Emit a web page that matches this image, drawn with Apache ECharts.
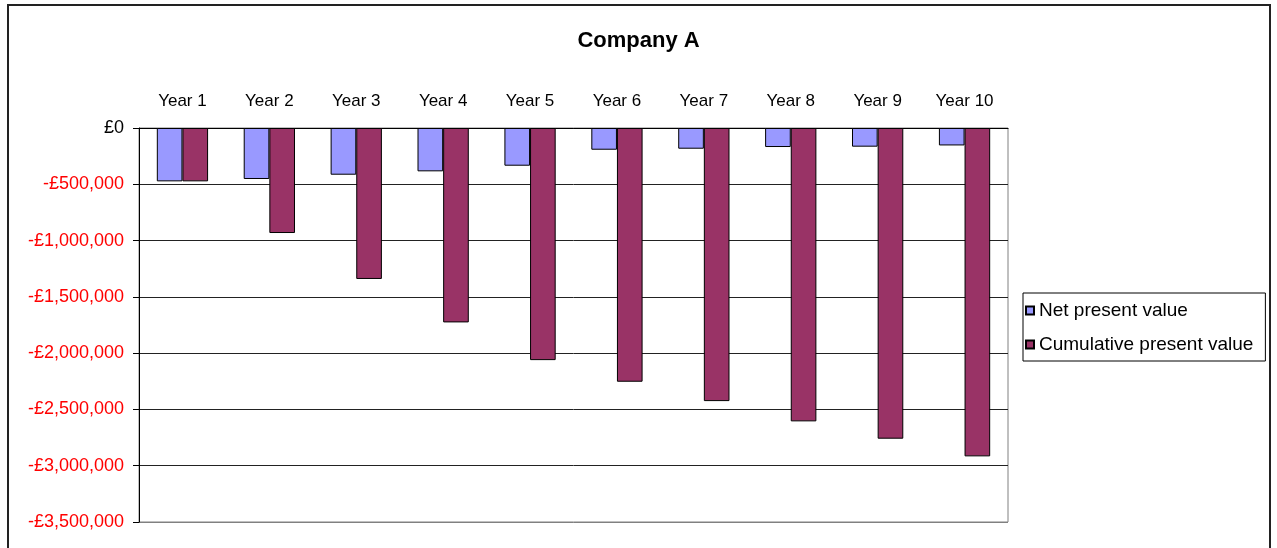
<!DOCTYPE html>
<html>
<head>
<meta charset="utf-8">
<title>Company A</title>
<script src="https://cdn.jsdelivr.net/npm/echarts@6/dist/echarts.min.js"></script>
<style>
  html, body { margin: 0; padding: 0; background: #fff; }
  #chart { width: 1277px; height: 548px; }
</style>
</head>
<body>
<div id="chart"></div>
<script>
// 数据
const years = ['Year 1', 'Year 2', 'Year 3', 'Year 4', 'Year 5', 'Year 6', 'Year 7', 'Year 8', 'Year 9', 'Year 10'];
const netPresentValue = [-474000, -453000, -415000, -385000, -335000, -193000, -184000, -169000, -166000, -155000];
const cumulativePresentValue = [-474000, -933000, -1341000, -1727000, -2062000, -2254000, -2426000, -2606000, -2760000, -2917000];

const FONT = '"Liberation Sans", Arial, sans-serif';

function formatPounds(v) {
    if (v === 0) return '{k|£0}';
    const s = Math.abs(v).toLocaleString('en-GB');
    return '{r|' + (v < 0 ? '-' : '') + '£' + s + '}';
}

const chart = echarts.init(document.getElementById('chart'));

chart.setOption({
    animation: false,
    title: {
        text: 'Company A',
        left: 'center',
        top: 25,
        textStyle: { fontFamily: FONT, fontSize: 22, fontWeight: 'bold', color: '#000' }
    },
    legend: {
        orient: 'vertical',
        left: 1023,
        top: 293,
        padding: [8, 12, 7, 2],
        itemGap: 15,
        itemWidth: 8,
        itemHeight: 8,
        icon: 'rect',
        borderColor: '#000',
        borderWidth: 1,
        data: ['Net present value', 'Cumulative present value'],
        textStyle: { fontFamily: FONT, fontSize: 19, color: '#000' }
    },
    grid: {
        left: 139,
        right: 269,
        top: 128,
        bottom: 26,
        show: true,
        borderColor: '#808080',
        borderWidth: 1
    },
    xAxis: {
        type: 'category',
        position: 'top',
        data: years,
        axisLine: { lineStyle: { color: '#000', width: 1 } },
        axisTick: { inside: true, length: 6, lineStyle: { color: '#000' } },
        axisLabel: { margin: 18, fontFamily: FONT, fontSize: 17, color: '#000' }
    },
    yAxis: {
        type: 'value',
        min: -3500000,
        max: 0,
        interval: 500000,
        axisLine: { show: true, lineStyle: { color: '#000', width: 1 } },
        axisTick: { show: true, length: 6, lineStyle: { color: '#000' } },
        axisLabel: {
            margin: 15,
            formatter: formatPounds,
            rich: {
                k: { fontFamily: FONT, fontSize: 18, color: '#000' },
                r: { fontFamily: FONT, fontSize: 18, color: '#ff0000' }
            }
        },
        splitLine: {
            lineStyle: {
                color: ['#808080', '#222', '#222', '#222', '#222', '#222', '#222', '#222'],
                width: 1
            }
        }
    },
    series: [
        {
            name: 'Net present value',
            type: 'bar',
            data: netPresentValue,
            barGap: '0%',
            barCategoryGap: '41%',
            itemStyle: { color: '#9999ff', borderColor: '#000', borderWidth: 1 }
        },
        {
            name: 'Cumulative present value',
            type: 'bar',
            data: cumulativePresentValue,
            barGap: '0%',
            barCategoryGap: '41%',
            itemStyle: { color: '#993366', borderColor: '#000', borderWidth: 1 }
        }
    ],
    graphic: [
        {
            // 图表外框
            type: 'rect',
            silent: true,
            shape: { x: 8, y: 5, width: 1262, height: 600 },
            style: { fill: 'none', stroke: '#222', lineWidth: 2 }
        }
    ]
});

window.addEventListener('resize', function() {
    chart.resize();
});
</script>
</body>
</html>
